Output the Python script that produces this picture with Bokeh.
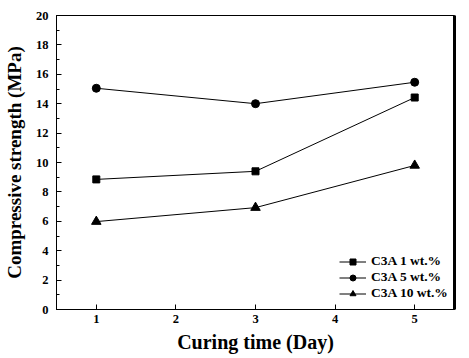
from bokeh.plotting import figure
from bokeh.models import (ColumnDataSource, Legend, LegendItem, FixedTicker, LinearAxis, Range1d)
from bokeh.embed import file_html
from bokeh.resources import INLINE

days = [1, 3, 5]
c3a_1 = [8.85, 9.4, 14.42]
c3a_5 = [15.05, 14.0, 15.46]
c3a_10 = [5.98, 6.93, 9.8]
series_labels = ["C3A 1 wt.%", "C3A 5 wt.%", "C3A 10 wt.%"]
x_ticks = [1, 2, 3, 4, 5]
y_ticks = [0, 2, 4, 6, 8, 10, 12, 14, 16, 18, 20]

FONT = "Liberation Serif"

p = figure(width=469, height=358, output_backend="svg", toolbar_location=None,
           x_range=Range1d(0.5, 5.5), y_range=Range1d(0, 20),
           min_border_left=55, min_border_right=15, min_border_top=15, min_border_bottom=49)
p.grid.visible = False
p.outline_line_color = "black"
p.outline_line_width = 1
p.background_fill_color = "white"

src = ColumnDataSource(dict(x=days, a=c3a_1, b=c3a_5, c=c3a_10))

items = []
for col, marker, size, lab in [("a", "square", 7, series_labels[0]),
                               ("b", "circle", 8, series_labels[1]),
                               ("c", "triangle", 9.5, series_labels[2])]:
    r1 = p.line("x", col, source=src, line_color="black", line_width=1)
    r2 = p.scatter("x", col, source=src, marker=marker, size=size,
                   fill_color="black", line_color="black")
    items.append(LegendItem(label=lab, renderers=[r1, r2]))

legend = Legend(items=items, location=(283, 8), border_line_color=None,
                background_fill_alpha=0, label_text_font=FONT,
                label_text_font_style="bold", label_text_font_size="13.5px",
                label_text_color="black",
                glyph_width=27, glyph_height=15, label_height=15, spacing=0,
                label_standoff=5, padding=0, margin=0)
p.add_layout(legend)

for ax in [p.xaxis[0], p.yaxis[0]]:
    ax.major_label_text_font = FONT
    ax.major_label_text_font_style = "bold"
    ax.major_label_text_font_size = "12.5px"
    ax.major_label_text_color = "black"
    ax.axis_label_text_font = FONT
    ax.axis_label_text_font_style = "bold"
    ax.axis_label_text_color = "black"
    ax.major_tick_out = 0
    ax.major_tick_in = 5
    ax.minor_tick_out = 0
    ax.minor_tick_in = 3
    ax.axis_line_color = "black"
    ax.major_tick_line_color = "black"
    ax.minor_tick_line_color = "black"

p.xaxis[0].ticker = FixedTicker(ticks=x_ticks)
p.xaxis[0].axis_label = "Curing time (Day)"
p.xaxis[0].axis_label_text_font_size = "20px"
p.xaxis[0].major_label_standoff = 5
p.xaxis[0].axis_label_standoff = 5
p.yaxis[0].ticker = FixedTicker(ticks=y_ticks, minor_ticks=list(range(0, 21)))
p.yaxis[0].axis_label = "Compressive strength (MPa)"
p.yaxis[0].axis_label_text_font_size = "19px"
p.yaxis[0].major_label_standoff = 8
p.yaxis[0].axis_label_standoff = 8

right = LinearAxis(axis_line_width=3, axis_line_color="black",
                   major_tick_line_color=None, minor_tick_line_color=None,
                   major_label_text_font_size="0px", major_label_standoff=0,
                   ticker=FixedTicker(ticks=[]))
p.add_layout(right, "right")

open("out.html", "w").write(file_html(p, INLINE))
